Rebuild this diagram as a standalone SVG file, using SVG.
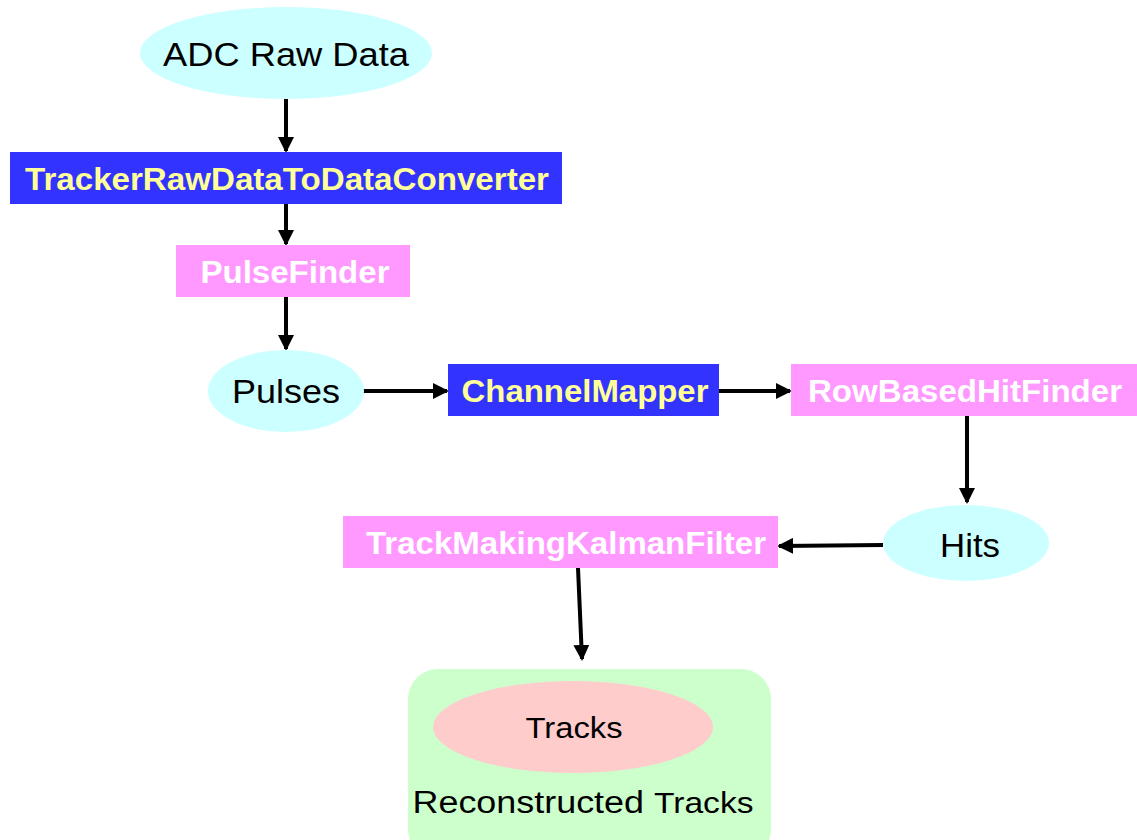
<svg xmlns="http://www.w3.org/2000/svg" width="1137" height="840" viewBox="0 0 1137 840">
<defs>
<marker id="ah" markerWidth="4" markerHeight="4" refX="3.5" refY="2" orient="auto" markerUnits="strokeWidth">
<path d="M0,0 L4,2 L0,4 Z" fill="#000"/>
</marker>
<style>
.lbl{font-family:"Liberation Sans",Arial,sans-serif;font-weight:bold;font-size:31px;text-anchor:middle}
.yl{fill:#FFFF99}
.wh{fill:#FFFFFF}
.pl{font-family:"Liberation Sans",Arial,sans-serif;font-size:33px;fill:#000;text-anchor:middle}
.blue{fill:#3333FF}
.pink{fill:#FF99FF}
.cyan{fill:#CCFFFF}
.conn{stroke:#000;stroke-width:4;fill:none;marker-end:url(#ah)}
</style>
</defs>
<rect width="1137" height="840" fill="#fff"/>
<g id="connectors">
<line class="conn" x1="286" y1="99" x2="286" y2="151"/>
<line class="conn" x1="286" y1="204" x2="286" y2="244"/>
<line class="conn" x1="286" y1="297" x2="286" y2="349"/>
<line class="conn" x1="363" y1="391" x2="447" y2="391"/>
<line class="conn" x1="719" y1="391" x2="790" y2="391"/>
<line class="conn" x1="967" y1="416" x2="967" y2="502"/>
<line class="conn" x1="883" y1="545" x2="779" y2="546"/>
<line class="conn" x1="578" y1="568" x2="582" y2="659"/>
</g>
<g id="adc">
<ellipse class="cyan" cx="286" cy="53" rx="146" ry="46"/>
<text class="pl" x="286" y="66" style="font-size:34px" textLength="246" lengthAdjust="spacingAndGlyphs">ADC Raw Data</text>
</g>
<g id="converter">
<rect class="blue" x="10" y="152" width="552" height="52"/>
<text class="lbl yl" x="287" y="190" textLength="524" lengthAdjust="spacingAndGlyphs">TrackerRawDataToDataConverter</text>
</g>
<g id="pulsefinder">
<rect class="pink" x="176" y="245" width="234" height="52"/>
<text class="lbl wh" x="295" y="283" textLength="189" lengthAdjust="spacingAndGlyphs">PulseFinder</text>
</g>
<g id="pulses">
<ellipse class="cyan" cx="286" cy="391" rx="78" ry="41"/>
<text class="pl" x="286" y="403" textLength="108" lengthAdjust="spacingAndGlyphs">Pulses</text>
</g>
<g id="channelmapper">
<rect class="blue" x="448" y="364" width="271" height="52"/>
<text class="lbl yl" x="585" y="402" textLength="247" lengthAdjust="spacingAndGlyphs">ChannelMapper</text>
</g>
<g id="rowbased">
<rect class="pink" x="791" y="364" width="346" height="52"/>
<text class="lbl wh" x="965" y="402" textLength="314" lengthAdjust="spacingAndGlyphs">RowBasedHitFinder</text>
</g>
<g id="hits">
<ellipse class="cyan" cx="966" cy="543" rx="83" ry="38"/>
<text class="pl" x="970" y="557" textLength="60" lengthAdjust="spacingAndGlyphs">Hits</text>
</g>
<g id="kalman">
<rect class="pink" x="343" y="516" width="435" height="52"/>
<text class="lbl wh" x="566" y="554" textLength="400" lengthAdjust="spacingAndGlyphs">TrackMakingKalmanFilter</text>
</g>
<g id="reconstructed">
<rect x="408" y="669" width="363" height="190" rx="30" ry="30" fill="#CCFFCC"/>
<ellipse cx="573" cy="727" rx="140" ry="46" fill="#FFCCCC"/>
<text class="pl" x="574" y="738" style="font-size:30px" textLength="97" lengthAdjust="spacingAndGlyphs">Tracks</text>
<text class="pl" x="583" y="813" style="font-size:31px" textLength="341" lengthAdjust="spacingAndGlyphs">Reconstructed <tspan style="font-size:29px">Tracks</tspan></text>
</g>
</svg>
